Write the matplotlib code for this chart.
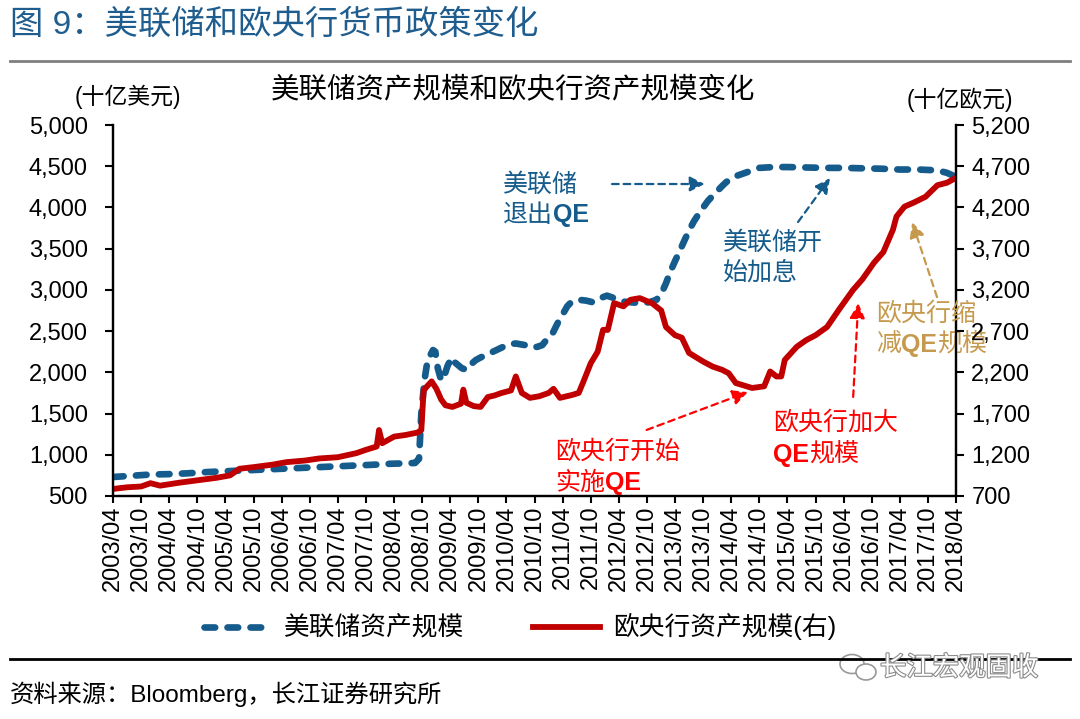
import matplotlib
matplotlib.use('Agg')
import matplotlib.pyplot as plt
import matplotlib.ticker as mticker
import matplotlib.patheffects as pe
from matplotlib.lines import Line2D
from matplotlib.patches import Ellipse
import pandas as pd

plt.rcParams['font.family'] = ['Liberation Sans', 'Noto Sans CJK SC']

# 美联储资产规模（十亿美元）
fed_dates = ['2003-04-01', '2003-08-01', '2003-12-01', '2004-04-01', '2004-08-01', '2004-12-01',
             '2005-04-01', '2005-08-01', '2005-12-01', '2006-04-01', '2006-08-01', '2006-12-01',
             '2007-04-01', '2007-08-01', '2007-12-01', '2008-03-01', '2008-06-01', '2008-08-15',
             '2008-09-10', '2008-09-25', '2008-10-15', '2008-11-05', '2008-11-20', '2008-12-10',
             '2008-12-25', '2009-01-10', '2009-02-01', '2009-02-20', '2009-03-15', '2009-04-10',
             '2009-05-01', '2009-06-15', '2009-07-15', '2009-08-15', '2009-09-15', '2009-10-15',
             '2009-12-01', '2010-01-15', '2010-03-01', '2010-04-15', '2010-06-01', '2010-08-01',
             '2010-09-15', '2010-10-20', '2010-11-20', '2010-12-20', '2011-01-20', '2011-03-01',
             '2011-04-01', '2011-05-01', '2011-06-01', '2011-07-15', '2011-09-01', '2011-10-15',
             '2011-12-01', '2012-01-15', '2012-03-01', '2012-04-15', '2012-06-15', '2012-08-15',
             '2012-10-15', '2012-12-01', '2013-01-01', '2013-02-01', '2013-03-01', '2013-04-01',
             '2013-05-01', '2013-06-01', '2013-07-01', '2013-08-01', '2013-09-01', '2013-10-01',
             '2013-11-01', '2013-12-01', '2014-01-01', '2014-02-01', '2014-03-01', '2014-05-01',
             '2014-07-01', '2014-10-01', '2015-01-01', '2015-04-01', '2015-08-01', '2015-12-01',
             '2016-04-01', '2016-08-01', '2016-12-01', '2017-04-01', '2017-08-01', '2017-12-01',
             '2018-02-01', '2018-04-01']
fed_values = [730, 745, 760, 765, 775, 790,
              800, 810, 820, 830, 840, 850,
              860, 870, 880, 890, 895, 900,
              950, 1500, 1900, 2150, 2200, 2270,
              2250, 2050, 1900, 1950, 2080, 2180,
              2120, 2050, 2030, 2100, 2150, 2180,
              2220, 2260, 2300, 2340, 2350, 2330,
              2300, 2310, 2330, 2400, 2450, 2600,
              2700, 2800, 2860, 2880, 2870, 2850,
              2900, 2930, 2900, 2860, 2850, 2840,
              2850, 2880, 2950, 3080, 3220, 3350,
              3470, 3600, 3720, 3830, 3920, 4000,
              4080, 4140, 4200, 4260, 4310, 4380,
              4420, 4480, 4490, 4490, 4485, 4480,
              4480, 4475, 4470, 4460, 4460, 4450,
              4420, 4370]

# 欧央行资产规模（十亿欧元，右轴）
ecb_dates = ['2003-04-01', '2003-07-01', '2003-10-01', '2003-12-01', '2004-02-01', '2004-06-01',
             '2004-10-01', '2005-02-01', '2005-05-01', '2005-07-01', '2005-10-01', '2006-02-01',
             '2006-05-01', '2006-09-01', '2006-12-01', '2007-04-01', '2007-08-01', '2007-10-01',
             '2007-12-10', '2007-12-25', '2008-01-15', '2008-04-01', '2008-06-15', '2008-09-01',
             '2008-09-25', '2008-10-10', '2008-11-01', '2008-12-01', '2009-01-01', '2009-02-01',
             '2009-03-01', '2009-04-15', '2009-06-10', '2009-06-25', '2009-07-15', '2009-09-01',
             '2009-10-15', '2009-12-01', '2010-01-15', '2010-03-01', '2010-05-01', '2010-06-01',
             '2010-07-10', '2010-09-01', '2010-11-01', '2011-01-01', '2011-02-01', '2011-03-15',
             '2011-06-01', '2011-07-15', '2011-08-15', '2011-10-01', '2011-11-15', '2011-12-20',
             '2012-01-20', '2012-03-01', '2012-05-01', '2012-06-15', '2012-08-15', '2012-11-01',
             '2013-01-01', '2013-02-01', '2013-04-01', '2013-05-15', '2013-07-01', '2013-10-01',
             '2013-12-01', '2014-02-01', '2014-03-15', '2014-05-01', '2014-08-15', '2014-11-01',
             '2014-12-10', '2015-01-20', '2015-02-20', '2015-03-15', '2015-06-01', '2015-08-01',
             '2015-10-01', '2015-12-15', '2016-03-01', '2016-06-01', '2016-08-01', '2016-10-15',
             '2016-12-15', '2017-02-15', '2017-03-10', '2017-05-01', '2017-07-01', '2017-09-15',
             '2017-12-01', '2018-02-01', '2018-04-01']
ecb_values = [785, 805, 815, 855, 825, 860,
              890, 920, 950, 1030, 1050, 1080,
              1110, 1130, 1155, 1170, 1220, 1260,
              1300, 1500, 1340, 1420, 1440, 1470,
              1500, 1980, 2030, 2090, 2000, 1870,
              1800, 1780, 1820, 1990, 1830, 1790,
              1780, 1900, 1920, 1950, 1980, 2150,
              1950, 1890, 1910, 1950, 2000, 1890,
              1925, 1950, 2090, 2310, 2450, 2715,
              2715, 3040, 3000, 3080, 3100, 3040,
              2950, 2750, 2650, 2620, 2435, 2330,
              2270, 2230, 2190, 2070, 2010, 2030,
              2210, 2150, 2150, 2350, 2510, 2590,
              2650, 2750, 2960, 3200, 3330, 3530,
              3660, 3930, 4090, 4210, 4260, 4330,
              4470, 4500, 4560]

fed_label = '美联储资产规模'
ecb_label = '欧央行资产规模(右)'
blue = '#155B8C'
red = '#C00000'
bright_red = '#FF0000'
gold = '#C69A4E'

fed_x = pd.to_datetime(fed_dates)
ecb_x = pd.to_datetime(ecb_dates)
xticks = pd.date_range('2003-04-01', '2018-04-01', freq='6MS')

fig = plt.figure(figsize=(10.8, 7.19), dpi=100)
ax = fig.add_axes([0.1046, 0.3102, 0.7806, 0.5159])
ax2 = ax.twinx()

ax.plot(fed_x, fed_values, color=blue, lw=4.8, dashes=(1.6, 1.85),
        dash_capstyle='round', label=fed_label)
ax2.plot(ecb_x, ecb_values, color=red, lw=4.2, solid_joinstyle='round', label=ecb_label)

ax.set_xlim(xticks[0], xticks[-1])
ax.set_ylim(500, 5000)
ax2.set_ylim(700, 5200)
ax.set_yticks(range(500, 5001, 500))
ax2.set_yticks(range(700, 5201, 500))
fmt = mticker.FuncFormatter(lambda v, p: f'{v:,.0f}')
ax.yaxis.set_major_formatter(fmt)
ax2.yaxis.set_major_formatter(fmt)
ax.set_xticks(xticks)
ax.set_xticklabels([d.strftime('%Y/%m') for d in xticks], rotation=90)

for a in (ax, ax2):
    a.spines['top'].set_visible(False)
    for s in ('left', 'right', 'bottom'):
        a.spines[s].set_linewidth(1.6)
ax.tick_params(axis='y', labelsize=17, length=6, width=1.5, pad=12)
ax2.tick_params(axis='y', labelsize=17, length=6, width=1.5, pad=5)
ax.tick_params(axis='x', labelsize=17, length=5, width=1.5, pad=2)

# 标题与单位
fig.text(10 / 1080, 1 - 25 / 719, '图 9：美联储和欧央行货币政策变化', color='#1F5D8E',
         fontsize=24, va='center', ha='left')
fig.add_artist(Line2D([10 / 1080, 1070 / 1080], [1 - 61 / 719] * 2, color='#7F7F7F',
                      lw=2, transform=fig.transFigure))
fig.text(513 / 1080, 1 - 90 / 719, '美联储资产规模和欧央行资产规模变化', fontsize=20.5,
         va='center', ha='center')
fig.text(128 / 1080, 1 - 97 / 719, '(十亿美元)', fontsize=16.5, va='center', ha='center')
fig.text(960 / 1080, 1 - 100 / 719, '(十亿欧元)', fontsize=16.5, va='center', ha='center')


def rich_text(x, y, parts, color, size=18):
    t = fig.text(x, y, parts[0][0], color=color, fontsize=size, va='center', ha='left',
                 fontweight='bold' if parts[0][1] else 'normal', zorder=5)
    for s, b in parts[1:]:
        t = ax.annotate(s, xy=(1, 0), xycoords=t, va='bottom', ha='left', color=color,
                        fontsize=size, fontweight='bold' if b else 'normal',
                        annotation_clip=False, zorder=5)


rich_text(503 / 1080, 1 - 185 / 719, [('美联储', False)], blue)
rich_text(503 / 1080, 1 - 215 / 719, [('退出', False), ('QE', True)], blue)
rich_text(723 / 1080, 1 - 243 / 719, [('美联储开', False)], blue)
rich_text(723 / 1080, 1 - 273 / 719, [('始加息', False)], blue)
rich_text(555 / 1080, 1 - 452 / 719, [('欧央行开始', False)], bright_red)
rich_text(555 / 1080, 1 - 483 / 719, [('实施', False), ('QE', True)], bright_red)
rich_text(773 / 1080, 1 - 423 / 719, [('欧央行加大', False)], bright_red)
rich_text(773 / 1080, 1 - 455 / 719, [('QE', True), ('规模', False)], bright_red)
rich_text(876 / 1080, 1 - 314 / 719, [('欧央行缩', False)], gold)
rich_text(876 / 1080, 1 - 345 / 719, [('减', False), ('QE', True), ('规模', False)], gold)


def dashed_arrow(p0, p1, color):
    ax.annotate('', xy=p1, xytext=p0, xycoords='axes fraction', textcoords='axes fraction',
                arrowprops=dict(arrowstyle='-|>,head_length=0.9,head_width=0.45',
                                color=color, lw=1.6, ls=(0, (3, 2.2)), shrinkA=0, shrinkB=0))


dashed_arrow((0.592, 0.841), (0.702, 0.841), blue)
dashed_arrow((0.8126, 0.7385), (0.8505, 0.857), blue)
dashed_arrow((0.633, 0.178), (0.753, 0.280), bright_red)
dashed_arrow((0.878, 0.267), (0.884, 0.520), bright_red)
dashed_arrow((0.9775, 0.536), (0.948, 0.738), gold)

# 图例
h1, l1 = ax.get_legend_handles_labels()
h2, l2 = ax2.get_legend_handles_labels()
fig.legend(h1 + h2, l1 + l2, loc='center', bbox_to_anchor=(520 / 1080, 1 - 627 / 719),
           ncol=2, frameon=False, fontsize=18.5, handlelength=2.6, handletextpad=0.5,
           columnspacing=2.7)

# 资料来源
fig.add_artist(Line2D([10 / 1080, 1070 / 1080], [1 - 659 / 719] * 2, color='black',
                      lw=2, transform=fig.transFigure))
fig.text(10 / 1080, 1 - 694 / 719, '资料来源：Bloomberg，长江证券研究所', fontsize=17.5,
         va='center', ha='left')

# 水印
for cx, cy, w, h in [(852, 664, 24, 19), (866, 672, 20, 16)]:
    fig.add_artist(Ellipse((cx / 1080, 1 - cy / 719), w / 1080, h / 719, facecolor='white',
                           edgecolor='#999999', lw=1.2, transform=fig.transFigure))
fig.text(880 / 1080, 1 - 668 / 719, '长江宏观固收', color='white', fontsize=19,
         va='center', ha='left',
         path_effects=[pe.withStroke(linewidth=1.6, foreground='#8C8C8C')])

fig.savefig('out.png', dpi=100)
